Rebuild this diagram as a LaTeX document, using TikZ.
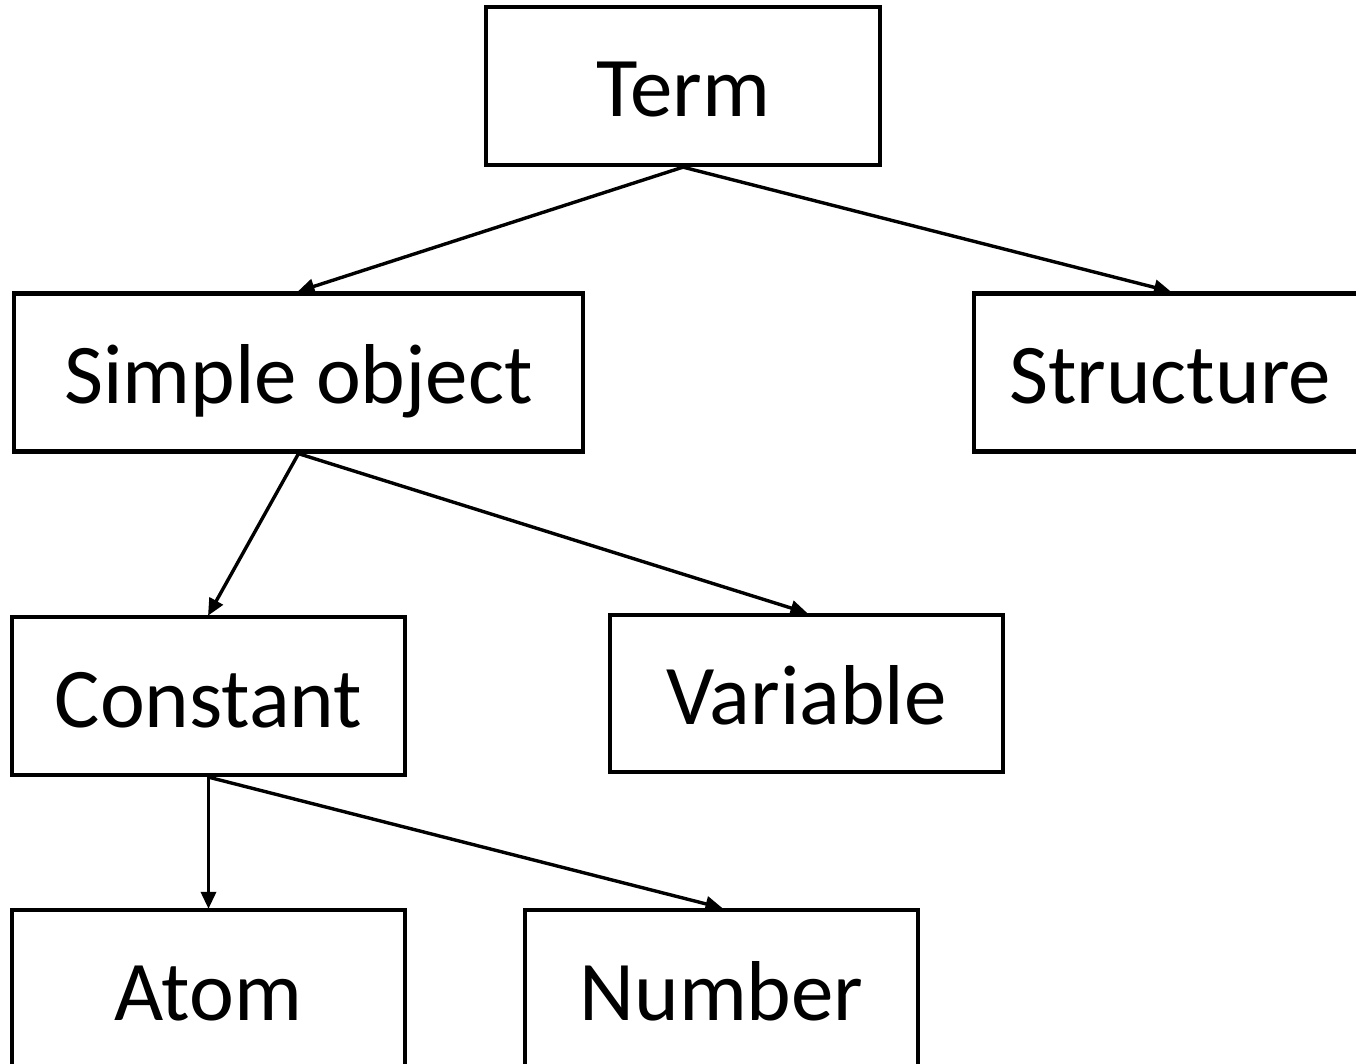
\documentclass[tikz,border=0pt]{standalone}
\usepackage{fontspec}
\setmainfont{Carlito}
\usetikzlibrary{arrows.meta}
\begin{document}
\begin{tikzpicture}[x=1pt,y=-1pt,
  box/.style={draw, line width=4.3pt, inner sep=0pt, text height=62pt, text depth=0pt, font=\fontsize{85}{100}\selectfont, anchor=center},
  arr/.style={line width=3.4pt, -{Triangle[length=17pt,width=15pt]}, shorten >=-1pt}]
\useasboundingbox (0,0) rectangle (1356,1064);
\begin{scope}
\clip (0,0) rectangle (1356,1064);
\node[box, minimum width=394pt, minimum height=158pt] (term) at (683,86) {Term};
\node[box, minimum width=569pt, minimum height=158pt] (simple) at (298.5,372.5) {Simple object};
\node[box, minimum width=392pt, minimum height=158pt] (struct) at (1170,372.5) {Structure};
\node[box, minimum width=393pt, minimum height=158pt] (const) at (208.5,696) {Constant};
\node[box, minimum width=393pt, minimum height=157pt] (var) at (806.5,693.5) {Variable};
\node[box, minimum width=393pt, minimum height=158pt] (atom) at (208.5,989) {Atom};
\node[box, minimum width=393pt, minimum height=158pt] (num) at (721.5,989) {Number};
\draw[arr] (term.south) -- (simple.north);
\draw[arr] (term.south) -- (struct.north);
\draw[arr] (simple.south) -- (const.north);
\draw[arr] (simple.south) -- (var.north);
\draw[arr] (const.south) -- (atom.north);
\draw[arr] (const.south) -- (num.north);
\end{scope}
\end{tikzpicture}
\end{document}
